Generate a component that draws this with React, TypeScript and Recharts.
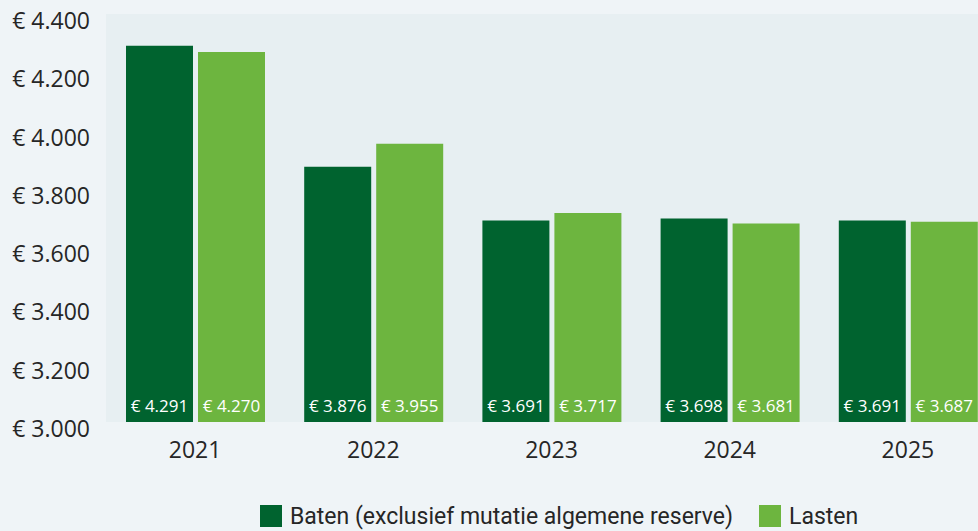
import { BarChart, Bar, XAxis, YAxis, CartesianGrid, Legend, LabelList } from 'recharts'

const years = ['2021', '2022', '2023', '2024', '2025']
const baten = [4291, 3876, 3691, 3698, 3691]
const lasten = [4270, 3955, 3717, 3681, 3687]
const yTicks = [3000, 3200, 3400, 3600, 3800, 4000, 4200, 4400]

const DARK = '#00632f'
const LIGHT = '#6db53f'
const TEXT = '#262626'

const data = years.map((year, i) => ({ year, baten: baten[i], lasten: lasten[i] }))

const euro = (v: number) => '€ ' + v.toLocaleString('de-DE')

const YTick = ({ x, y, payload }: any) => (
  <text x={x} y={y + 6} textAnchor="end" dominantBaseline="central" fill={TEXT}
    fontFamily="'Open Sans', sans-serif" fontSize={23}>
    {euro(payload.value)}
  </text>
)

const XTick = ({ x, y, payload }: any) => (
  <text x={x} y={y} dy="0.95em" textAnchor="middle" fill={TEXT}
    fontFamily="'Open Sans', sans-serif" fontSize={23}>
    {payload.value}
  </text>
)

const ValueLabel = ({ x, y, width, height, value }: any) => (
  <text x={x + width / 2} y={y + height - 10} textAnchor="middle" fill="#fff"
    fontFamily="'Open Sans', sans-serif" fontSize={17}>
    {euro(value)}
  </text>
)

const items = [
  { label: 'Baten (exclusief mutatie algemene reserve)', color: DARK },
  { label: 'Lasten', color: LIGHT },
]

const LegendBox = () => (
  <div style={{ height: 30, display: 'flex', paddingLeft: 260, fontFamily: 'Roboto, sans-serif', fontSize: 23, color: TEXT }}>
    {items.map((it) => (
      <div key={it.label} style={{ display: 'flex', alignItems: 'center', marginRight: 26 }}>
        <span style={{ width: 22, height: 22, background: it.color, marginRight: 8, display: 'inline-block' }} />
        <span>{it.label}</span>
      </div>
    ))}
  </div>
)

export default function App() {
  return (
    <div style={{ position: 'absolute', left: 0, top: 0, width: 978, height: 531, overflow: 'hidden', background: '#eff4f7' }}>
      <BarChart width={1000} height={531} data={data} barCategoryGap={20} barGap={5}
        margin={{ top: 14, right: 3, bottom: 39, left: 0 }}>
        <CartesianGrid fill="#e7eff2" stroke="none" vertical={false} horizontal={false} />
        <YAxis domain={[3000, 4400]} ticks={yTicks} width={106} axisLine={false} tickLine={false}
          tickSize={0} tickMargin={16} tick={<YTick />} interval={0} />
        <XAxis dataKey="year" height={40} axisLine={false} tickLine={false} tickSize={0} tickMargin={14} tick={<XTick />} />
        <Legend verticalAlign="bottom" content={<LegendBox />} wrapperStyle={{ left: 0, bottom: 0, width: 1000 }} />
        <Bar dataKey="baten" fill={DARK} isAnimationActive={false}>
          <LabelList dataKey="baten" content={<ValueLabel />} />
        </Bar>
        <Bar dataKey="lasten" fill={LIGHT} isAnimationActive={false}>
          <LabelList dataKey="lasten" content={<ValueLabel />} />
        </Bar>
      </BarChart>
    </div>
  )
}
